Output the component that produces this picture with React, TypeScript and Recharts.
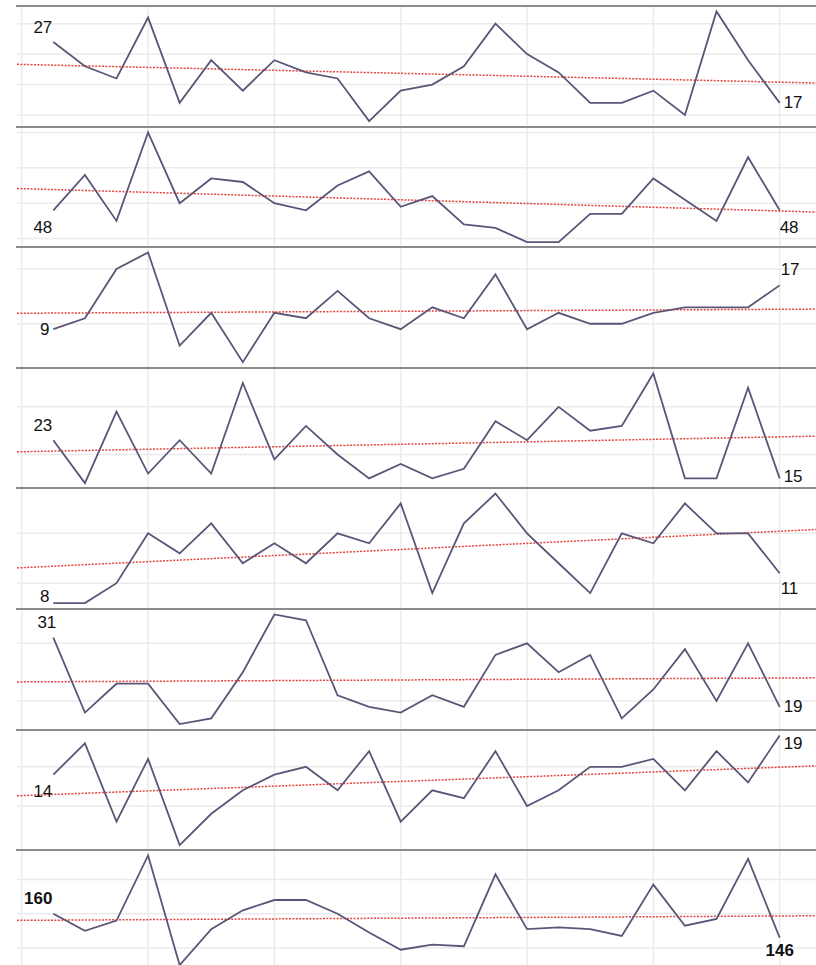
import { CartesianGrid, Line, LineChart, ReferenceLine, XAxis, YAxis } from 'recharts';

// x positions (one point per period), grid every fourth period
const periods = [0, 1, 2, 3, 4, 5, 6, 7, 8, 9, 10, 11, 12, 13, 14, 15, 16, 17, 18, 19, 20, 21, 22, 23];
const xGridTicks = [-1, 3, 7, 11, 15, 19, 23];

const seriesA = [27, 23, 21, 31, 17, 24, 19, 24, 22, 21, 14, 19, 20, 23, 30, 25, 22, 17, 17, 19, 15, 32, 24, 17];
const seriesB = [48, 58, 45, 70, 50, 57, 56, 50, 48, 55, 59, 49, 52, 44, 43, 39, 39, 47, 47, 57, 51, 45, 63, 48];
const seriesC = [9, 11, 20, 23, 6, 12, 3, 12, 11, 16, 11, 9, 13, 11, 19, 9, 12, 10, 10, 12, 13, 13, 13, 17];
const seriesD = [23, 14, 29, 16, 23, 16, 35, 19, 26, 20, 15, 18, 15, 17, 27, 23, 30, 25, 26, 37, 15, 15, 34, 15];
const seriesE = [8, 8, 10, 15, 13, 16, 12, 14, 12, 15, 14, 18, 9, 16, 19, 15, 12, 9, 15, 14, 18, 15, 15, 11];
const seriesF = [31, 18, 23, 23, 16, 17, 25, 35, 34, 21, 19, 18, 21, 19, 28, 30, 25, 28, 17, 22, 29, 20, 30, 19];
const seriesG = [14, 18, 8, 16, 5, 9, 12, 14, 15, 12, 17, 8, 12, 11, 17, 10, 12, 15, 15, 16, 12, 17, 13, 19];
const totals = [160, 150, 156, 194, 130, 151, 162, 168, 168, 160, 149, 139, 142, 141, 183, 151, 152, 151, 147, 177, 153, 157, 192, 146];

const yTicksA = [15, 20, 25, 30];
const yTicksB = [40, 50, 60, 70];
const yTicksC = [10, 20];
const yTicksD = [20, 30];
const yTicksE = [10, 15];
const yTicksF = [20, 30];
const yTicksG = [5, 10, 15];
const yTicksTotal = [140, 160, 180];

type Place = { dx: number; dy: number; anchor: 'start' | 'middle' | 'end' };
type Panel = { values: number[]; ticks: number[]; first: Place; last: Place; bold?: boolean };

const panels: Panel[] = [
  { values: seriesA, ticks: yTicksA, first: { dx: -1, dy: -14, anchor: 'end' }, last: { dx: 4, dy: 0, anchor: 'start' } },
  { values: seriesB, ticks: yTicksB, first: { dx: -1, dy: 17, anchor: 'end' }, last: { dx: 0, dy: 17, anchor: 'start' } },
  { values: seriesC, ticks: yTicksC, first: { dx: -4, dy: 0, anchor: 'end' }, last: { dx: 1, dy: -16, anchor: 'start' } },
  { values: seriesD, ticks: yTicksD, first: { dx: -1, dy: -15, anchor: 'end' }, last: { dx: 4, dy: -2, anchor: 'start' } },
  { values: seriesE, ticks: yTicksE, first: { dx: -4, dy: -7, anchor: 'end' }, last: { dx: 1, dy: 15, anchor: 'start' } },
  { values: seriesF, ticks: yTicksF, first: { dx: 3, dy: -15, anchor: 'end' }, last: { dx: 4, dy: 0, anchor: 'start' } },
  { values: seriesG, ticks: yTicksG, first: { dx: -1, dy: 17, anchor: 'end' }, last: { dx: 4, dy: 8, anchor: 'start' } },
  { values: totals, ticks: yTicksTotal, first: { dx: -1, dy: -15, anchor: 'end' }, last: { dx: 0, dy: 13, anchor: 'middle' }, bold: true },
];

const PANEL_H = 120.6;
const TOP = 6;
const X_DOMAIN: [number, number] = [-1.15, 24.15];
const LINE = '#5b5577';
const TREND = '#e2463f';
const GRID = '#ebebeb';
const FONT = '"Liberation Sans", Arial, sans-serif';

// least-squares trend of a series against its period index
const fitTrend = (values: number[]) => {
  const n = values.length;
  const mx = periods.reduce((s, p) => s + p, 0) / n;
  const my = values.reduce((s, v) => s + v, 0) / n;
  let sxy = 0;
  let sxx = 0;
  values.forEach((v, i) => {
    sxy += (periods[i] - mx) * (v - my);
    sxx += (periods[i] - mx) ** 2;
  });
  const slope = sxy / sxx;
  return (x: number) => my + slope * (x - mx);
};

const PanelChart = ({ panel }: { panel: Panel }) => {
  const data = panel.values.map((v, i) => ({ t: periods[i], v }));
  const lo = Math.min(...panel.values);
  const hi = Math.max(...panel.values);
  const pad = (hi - lo) * 0.05;
  const trend = fitTrend(panel.values);
  const lastIdx = panel.values.length - 1;

  const renderDot = (p: any) => {
    const { cx, cy, index, value } = p;
    const place = index === 0 ? panel.first : index === lastIdx ? panel.last : null;
    if (!place) return <g key={`d${index}`} />;
    return (
      <text
        key={`d${index}`}
        x={cx + place.dx}
        y={cy + place.dy}
        textAnchor={place.anchor}
        dominantBaseline="central"
        fontFamily={FONT}
        fontSize={17}
        fontWeight={panel.bold ? 700 : 400}
        fill="#111"
      >
        {value}
      </text>
    );
  };

  return (
    <LineChart
      width={816}
      height={PANEL_H}
      data={data}
      margin={{ top: 0, right: 0, bottom: 0, left: 17 }}
      style={{ overflow: 'visible' }}
    >
      <CartesianGrid
        stroke={GRID}
        strokeWidth={1.5}
        horizontalValues={panel.ticks}
        verticalValues={xGridTicks}
      />
      <XAxis dataKey="t" type="number" domain={X_DOMAIN} ticks={xGridTicks} allowDataOverflow hide />
      <YAxis type="number" domain={[lo - pad, hi + pad]} ticks={panel.ticks} allowDataOverflow hide />
      <ReferenceLine
        segment={[
          { x: X_DOMAIN[0], y: trend(X_DOMAIN[0]) },
          { x: X_DOMAIN[1], y: trend(X_DOMAIN[1]) },
        ]}
        stroke={TREND}
        strokeWidth={1.5}
        strokeDasharray="2 1.4"
        ifOverflow="visible"
      />
      <Line
        type="linear"
        dataKey="v"
        stroke={LINE}
        strokeWidth={1.8}
        dot={renderDot}
        activeDot={false}
        isAnimationActive={false}
      />
    </LineChart>
  );
};

export default function App() {
  return (
    <div style={{ position: 'fixed', left: 0, top: 0, width: 816, height: 965, overflow: 'hidden', background: '#fff' }}>
      {panels.map((panel, k) => (
        <div key={k} style={{ position: 'absolute', left: 0, top: TOP + k * PANEL_H, width: 816, height: PANEL_H }}>
          <PanelChart panel={panel} />
          <div style={{ position: 'absolute', left: 16, right: 0, top: -1, height: 2, background: '#8c8c8c' }} />
        </div>
      ))}
    </div>
  );
}
